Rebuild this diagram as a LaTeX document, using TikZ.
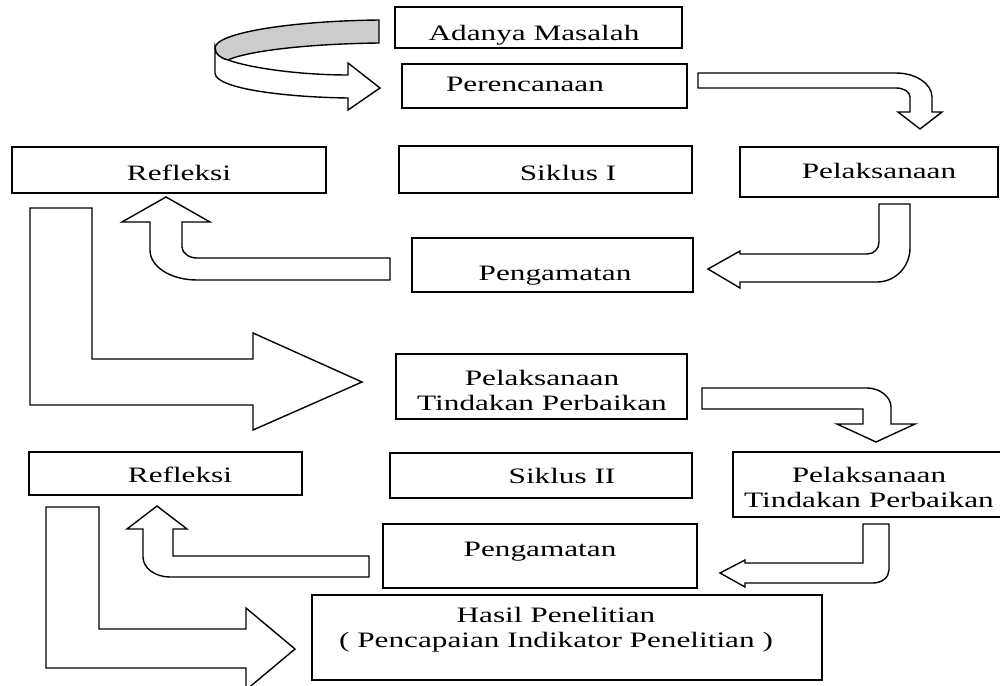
\documentclass[tikz,border=0pt]{standalone}
\usepackage{fontspec}
\setmainfont{Liberation Serif}

\begin{document}
\begin{tikzpicture}[x=1pt, y=-1pt,
    kotak/.style={draw, line width=1.6pt, inner sep=0pt},
    teks/.style={font=\fontsize{22}{25}\selectfont, xscale=1.42, transform shape, inner sep=0pt, align=center},
    panah/.style={draw, line width=1.4pt, fill=white}]
    \useasboundingbox (0,0) rectangle (1000,685);
    \clip (0,0) rectangle (1000,685);

    % kotak siklus I
    \node[kotak, minimum width=287pt, minimum height=41pt] (masalah) at (538.5,27.5) {};
    \node[kotak, minimum width=285pt, minimum height=44pt] (rencana) at (544.5,86) {};
    \node[kotak, minimum width=314pt, minimum height=46pt] (refleksi1) at (169,170) {};
    \node[kotak, minimum width=293pt, minimum height=47pt] (siklus1) at (545.5,169.5) {};
    \node[kotak, minimum width=258pt, minimum height=50pt] (laksana1) at (869,172) {};
    \node[kotak, minimum width=281pt, minimum height=54pt] (amat1) at (552.5,265) {};
    \node[kotak, minimum width=291pt, minimum height=65pt] (tindakan1) at (541.5,386.5) {};
    % kotak siklus II
    \node[kotak, minimum width=273pt, minimum height=43pt] (refleksi2) at (165.5,473.5) {};
    \node[kotak, minimum width=302pt, minimum height=45pt] (siklus2) at (541,475.5) {};
    \node[kotak, minimum width=269pt, minimum height=65pt] (tindakan2) at (867.5,484.5) {};
    \node[kotak, minimum width=314pt, minimum height=64pt] (amat2) at (540,556) {};
    \node[kotak, minimum width=510pt, minimum height=85pt] (hasil) at (567,637.5) {};

    % teks
    \node[teks, anchor=base] (t-masalah) at (534,41) {Adanya Masalah};
    \node[teks, anchor=base] (t-rencana) at (525,91) {Perencanaan};
    \node[teks, anchor=base] (t-refleksi1) at (179,180) {Refleksi};
    \node[teks, anchor=base] (t-siklus1) at (568,180) {Siklus I};
    \node[teks, anchor=base] (t-laksana1) at (879,178) {Pelaksanaan};
    \node[teks, anchor=base] (t-amat1) at (555,280) {Pengamatan};
    \node[teks] (t-tindakan1) at (542,390) {Pelaksanaan\\Tindakan Perbaikan};
    \node[teks, anchor=base] (t-refleksi2) at (180,482) {Refleksi};
    \node[teks, anchor=base] (t-siklus2) at (562,483) {Siklus II};
    \node[teks] (t-tindakan2) at (869,487) {Pelaksanaan\\Tindakan Perbaikan};
    \node[teks, anchor=base] (t-amat2) at (540,556) {Pengamatan};
    \node[teks] (t-hasil) at (556,630) {Hasil Penelitian\\( Pencapaian Indikator Penelitian )};

    % panah lengkung atas
    \draw[panah, fill=gray!40] (379,20) .. controls (290,21) and (215,33) .. (215,48)
        .. controls (215,54) and (220,58) .. (228,60)
        .. controls (245,52) and (300,44) .. (379,43) -- cycle;
    \draw[panah] (215,48) .. controls (215,54) and (220,58) .. (228,60)
        .. controls (250,68) and (300,75) .. (348,75) -- (348,63) -- (380,88) -- (348,110) -- (348,98)
        .. controls (280,97) and (215,88) .. (215,73) -- cycle;

    % panah siklus I
    \draw[panah] (698,73) -- (896,73) .. controls (916,73) and (932,84) .. (932,97) -- (932,112)
        -- (942,112) -- (920,129) -- (898,112) -- (910,112) -- (910,97)
        .. controls (910,92) and (904,88) .. (896,88) -- (698,88) -- cycle;
    \draw[panah] (879,204) -- (910,204) -- (910,248) .. controls (910,267) and (895,282) .. (877,282)
        -- (740,282) -- (740,288) -- (708,269) -- (740,251) -- (740,254) -- (867,254)
        .. controls (874,254) and (879,249) .. (879,242) -- cycle;
    \draw[panah] (390,258) -- (197,258) .. controls (189,258) and (182,253) .. (182,247)
        -- (182,222) -- (210,222) -- (166,197) -- (122,222) -- (150,222) -- (150,250)
        .. controls (150,267) and (171,280) .. (197,280) -- (390,280) -- cycle;
    \draw[panah] (30,208) -- (92,208) -- (92,359) -- (253,359) -- (253,333) -- (362,382)
        -- (253,430) -- (253,405) -- (30,405) -- cycle;

    % panah siklus II
    \draw[panah] (702,388) -- (867,388) .. controls (880,388) and (891,397) .. (891,407) -- (891,424)
        -- (915,424) -- (876,442) -- (837,424) -- (863,424) -- (863,409) -- (702,409) -- cycle;
    \draw[panah] (863,524) -- (889,524) -- (889,570) .. controls (889,577) and (882,583) .. (873,583)
        -- (745,583) -- (745,587) -- (720,573) -- (745,560) -- (745,563) -- (863,563) -- cycle;
    \draw[panah] (369,556) -- (173,556) -- (173,529) -- (187,529) -- (157,506) -- (127,529)
        -- (143,529) -- (143,557) .. controls (143,568) and (155,577) .. (170,577) -- (369,577) -- cycle;
    \draw[panah] (46,507) -- (99,507) -- (99,629) -- (246,629) -- (246,608) -- (295,649)
        -- (246,690) -- (246,668) -- (46,668) -- cycle;
\end{tikzpicture}
\end{document}
